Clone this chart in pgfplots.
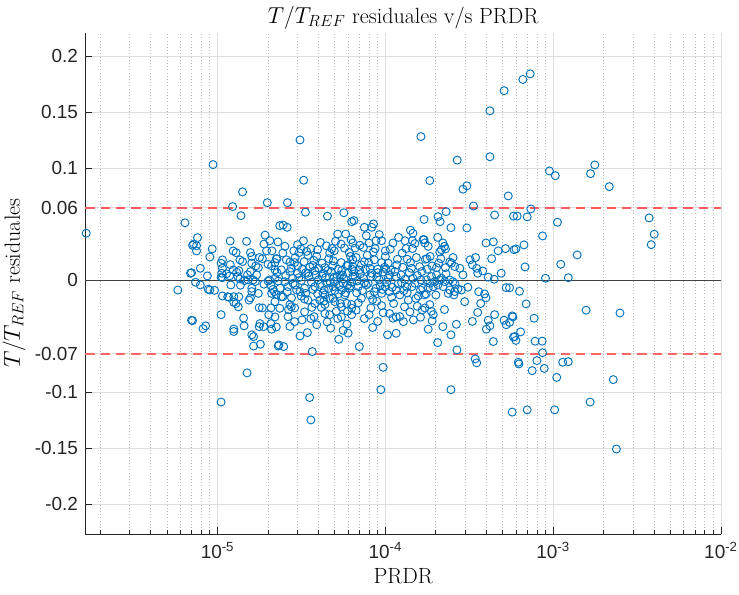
\documentclass[border=0pt]{standalone}
\usepackage{fontspec}
\usepackage{pgfplots}
\usepackage{pgfplotstable}
\pgfplotsset{compat=1.18}
\newfontfamily\arialf{Liberation Sans}
\definecolor{mblue}{RGB}{0,114,189}
\definecolor{axc}{RGB}{38,38,38}
\pgfplotstableread{
x y
1.65e-6 0.0417
6.4e-6 0.051
7.1e-6 0.031
6.9e-6 0.006
5.8e-6 -0.009
7.0e-6 -0.036
1.41e-5 0.0786
1.23e-5 0.0655
1.38e-5 0.0574
1.98e-5 0.069
2.35e-5 0.0485
7.6e-6 0.0378
7.2e-6 0.032
7.5e-6 0.0306
7.5e-6 0.0259
9.3e-6 0.0277
9.0e-6 0.0205
1.19e-5 0.0348
1.49e-5 0.0345
1.24e-5 0.0259
1.29e-5 0.0244
1.36e-5 0.0179
1.41e-5 0.0164
1.07e-5 0.0179
1.05e-5 0.0149
1.07e-5 0.0104
1.06e-5 0.006
1.05e-5 0.0024
1.13e-5 0.0054
1.19e-5 0.0137
1.24e-5 0.0089
1.30e-5 0.0069
1.34e-5 0.0083
1.32e-5 0.003
1.36e-5 0.0009
7.9e-6 0.0104
7.0e-6 0.0065
8.7e-6 0.0036
7.4e-6 -0.0021
7.9e-6 -0.0045
8.8e-6 -0.0083
9.0e-6 -0.009
9.6e-6 -0.0093
1.2e-5 -0.0045
1.37e-5 -0.0047
1.07e-5 -0.0143
1.15e-5 -0.015
1.17e-5 -0.0155
1.25e-5 -0.015
1.34e-5 -0.015
1.25e-5 -0.020
1.29e-5 -0.021
1.33e-5 -0.024
1.05e-5 -0.031
7.1e-6 -0.0363
8.2e-6 -0.0435
1.43e-5 -0.034
1.44e-5 -0.041
1.25e-5 -0.0438
1.25e-5 -0.046
1.6e-5 -0.049
1.79e-5 -0.039
1.8e-5 -0.0574
2.08e-5 -0.039
2.1e-5 -0.044
2.02e-5 -0.031
2.3e-5 -0.059
1.57e-5 0.0244
1.6e-5 0.021
1.6e-5 0.0149
1.78e-5 0.020
1.85e-5 0.019
1.92e-5 0.040
2.05e-5 0.035
1.89e-5 0.032
2.11e-5 0.026
1.96e-5 0.026
1.69e-5 0.0125
1.75e-5 0.011
1.71e-5 0.0045
1.63e-5 0.0
1.68e-5 -0.0015
1.6e-5 -0.0074
1.6e-5 -0.0104
1.57e-5 -0.016
1.54e-5 -0.018
1.75e-5 -0.012
1.89e-5 -0.0038
2.08e-5 -0.005
2.14e-5 -0.0085
2.18e-5 -0.0105
2.10e-5 -0.012
2.24e-5 -0.013
2.08e-5 -0.025
1.85e-5 -0.025
1.77e-5 -0.0248
2.1e-5 0.0125
2.2e-5 0.009
2.26e-5 0.0065
1.57e-5 0.0074
1.51e-5 0.0045
1.18e-5 0.0036
1.07e-5 0.002
1.52e-5 0.0
1.45e-5 -0.0006
2.26e-5 0.0188
2.2e-5 0.0155
2.0e-5 0.014
2.0e-5 -0.001
2.04e-5 0.0
2.2e-5 0.0015
1.77e-5 -0.0417
1.88e-5 -0.0417
1.64e-5 -0.0506
3.26e-5 0.089
2.61e-5 0.069
3.34e-5 0.0605
4.52e-5 0.057
5.66e-5 0.060
6.3e-5 0.052
2.46e-5 0.049
2.6e-5 0.047
2.29e-5 0.034
2.52e-5 0.030
5.2e-5 0.041
5.8e-5 0.041
4.8e-5 0.028
4.96e-5 0.026
3.14e-5 0.0277
3.06e-5 0.0244
3.46e-5 0.022
3.9e-5 0.021
4.66e-5 0.024
4.6e-5 0.019
6.2e-5 0.021
6.4e-5 0.018
2.24e-5 0.019
2.57e-5 0.018
2.7e-5 0.016
2.88e-5 0.0155
3.0e-5 0.0125
3.28e-5 0.0164
3.7e-5 0.013
4.2e-5 0.015
4.36e-5 0.011
5.46e-5 0.0155
5.88e-5 0.0125
5.24e-5 0.0095
2.4e-5 0.009
2.7e-5 0.0074
3.0e-5 0.006
3.36e-5 0.0065
3.8e-5 0.0083
4.26e-5 0.006
4.77e-5 0.0074
5.35e-5 0.0045
6.0e-5 0.0065
6.4e-5 0.003
2.3e-5 -0.001
2.52e-5 -0.0015
2.82e-5 -0.003
3.16e-5 -0.0005
3.63e-5 -0.002
3.98e-5 0.0
4.47e-5 -0.003
5.0e-5 -0.0015
5.6e-5 -0.003
6.3e-5 -0.002
2.36e-5 -0.0074
2.63e-5 -0.006
2.96e-5 -0.009
3.3e-5 -0.0074
3.8e-5 -0.006
4.32e-5 -0.009
4.88e-5 -0.006
5.48e-5 -0.009
6.1e-5 -0.0074
2.4e-5 -0.015
2.76e-5 -0.016
3.1e-5 -0.0104
4.36e-5 -0.0134
4.88e-5 -0.0164
5.74e-5 -0.0134
2.7e-5 -0.022
2.88e-5 -0.025
2.75e-5 -0.024
3.46e-5 -0.018
3.8e-5 -0.021
4.07e-5 -0.018
4.36e-5 -0.022
4.66e-5 -0.0164
5.0e-5 -0.0194
5.47e-5 -0.024
5.88e-5 -0.021
6.3e-5 -0.0253
2.2e-5 -0.0194
2.35e-5 -0.0253
2.45e-5 -0.015
2.63e-5 -0.0328
2.88e-5 -0.0372
3.19e-5 -0.0357
3.6e-5 -0.0345
3.76e-5 -0.0328
3.9e-5 -0.040
4.36e-5 -0.030
4.66e-5 -0.031
5.1e-5 -0.028
5.47e-5 -0.033
5.95e-5 -0.028
4.72e-5 -0.043
5.6e-5 -0.045
5.28e-5 -0.053
3.43e-5 -0.047
3.1e-5 -0.050
2.32e-5 -0.058
2.48e-5 -0.0595
3.67e-5 -0.064
2.2e-5 -0.033
2.24e-5 -0.042
1.84e-4 0.0887
6.5e-5 0.053
7.5e-5 0.047
8.5e-5 0.050
8.3e-5 0.047
1.41e-4 0.0444
1.46e-4 0.0417
1.11e-4 0.033
1.31e-4 0.035
1.45e-4 0.035
1.68e-4 0.036
1.72e-4 0.033
8.0e-5 0.033
8.8e-5 0.035
9.5e-5 0.035
6.4e-5 0.033
7.4e-5 0.029
8.5e-5 0.025
1.0e-4 0.026
1.18e-4 0.0185
1.35e-4 0.0185
1.53e-4 0.020
1.73e-4 0.0185
6.7e-5 0.020
7.5e-5 0.0164
8.6e-5 0.018
9.5e-5 0.0155
1.04e-4 0.015
6.4e-5 0.0119
7.0e-5 0.0089
8.1e-5 0.0104
9.0e-5 0.0096
9.9e-5 0.0113
1.08e-4 0.0089
1.27e-4 0.0113
1.43e-4 0.0104
1.6e-4 0.0119
1.78e-4 0.0096
6.6e-5 0.003
7.4e-5 0.0015
8.2e-5 0.003
9.2e-5 0.0
1.04e-4 0.0015
1.16e-4 0.003
1.31e-4 0.0006
1.46e-4 0.0015
1.63e-4 0.0
6.9e-5 -0.006
7.7e-5 -0.0045
8.8e-5 -0.0074
1.0e-4 -0.006
1.16e-4 -0.009
1.34e-4 -0.0065
1.5e-4 -0.003
1.67e-4 -0.0074
7.2e-5 -0.0164
8.1e-5 -0.0134
9.5e-5 -0.012
1.06e-4 -0.0104
1.22e-4 -0.0134
1.37e-4 -0.018
1.57e-4 -0.0143
1.71e-4 -0.0134
6.3e-5 -0.022
6.7e-5 -0.027
6.3e-5 -0.031
8.2e-5 -0.025
9.5e-5 -0.023
1.06e-4 -0.030
1.16e-4 -0.033
9.7e-5 -0.0292
1.11e-4 -0.0342
1.22e-4 -0.0327
1.28e-4 -0.0372
1.47e-4 -0.0357
1.62e-4 -0.0333
1.66e-4 -0.0268
1.03e-4 -0.049
1.16e-4 -0.0476
7.0e-5 -0.0595
3.06e-4 0.084
2.9e-4 0.081
5.4e-4 0.075
3.35e-4 0.066
4.48e-4 0.058
2.06e-4 0.0565
2.3e-4 0.061
2.12e-4 0.052
2.46e-4 0.0467
3.06e-4 0.0464
1.7e-4 0.054
5.8e-4 0.057
2.05e-4 0.038
2.2e-4 0.033
2.25e-4 0.030
2.16e-4 0.027
2.28e-4 0.0277
1.7e-4 0.036
1.8e-4 0.030
1.85e-4 0.021
1.77e-4 0.019
2.11e-4 0.025
2.14e-4 0.019
2.08e-4 0.015
2.42e-4 0.016
2.53e-4 0.020
2.48e-4 0.015
2.59e-4 0.012
2.78e-4 0.0104
2.02e-4 0.011
2.28e-4 0.011
3.98e-4 0.033
4.4e-4 0.034
4.7e-4 0.026
5.2e-4 0.028
5.85e-4 0.027
3.2e-4 0.018
3.45e-4 0.020
4.3e-4 0.019
3.5e-4 0.0104
3.55e-4 0.006
3.8e-4 0.008
4.9e-4 0.006
4.45e-4 0.0006
5.25e-4 -0.0069
1.76e-4 0.0
1.84e-4 -0.003
1.97e-4 -0.0015
2.11e-4 0.0
2.26e-4 -0.0015
2.42e-4 0.0
2.53e-4 -0.0015
1.8e-4 -0.0074
1.93e-4 -0.006
2.06e-4 -0.0045
2.21e-4 -0.006
1.88e-4 0.003
2.02e-4 0.0045
2.16e-4 0.0015
2.42e-4 -0.009
2.59e-4 -0.0104
2.71e-4 -0.008
2.84e-4 -0.009
2.37e-4 -0.012
2.56e-4 -0.0134
2.97e-4 -0.0194
3.9e-4 -0.0125
3.98e-4 -0.016
3.7e-4 -0.021
3.55e-4 -0.029
3.3e-4 -0.037
4.48e-4 -0.031
4.1e-4 -0.036
4.2e-4 -0.041
4.0e-4 -0.044
5.1e-4 -0.036
5.25e-4 -0.040
5.75e-4 -0.033
5.8e-4 -0.051
1.84e-4 -0.022
1.88e-4 -0.028
1.93e-4 -0.031
1.72e-4 -0.025
2.65e-4 -0.0396
2.2e-4 -0.0417
1.8e-4 -0.044
2.46e-4 -0.049
2.05e-4 -0.056
4.4e-4 -0.055
2.67e-4 -0.0625
3.43e-4 -0.0705
9.5e-4 0.0973
1.03e-3 0.0931
1.77e-3 0.1027
1.67e-3 0.0949
2.16e-3 0.0833
7.36e-4 0.0634
6.1e-4 0.057
7.0e-4 0.0563
1.06e-3 0.0515
3.73e-3 0.0554
4.0e-3 0.0408
3.84e-3 0.0315
8.65e-4 0.0393
6.0e-4 0.0277
6.7e-4 0.0313
1.39e-3 0.0223
1.11e-3 0.014
6.8e-4 0.0116
9.0e-4 0.0015
1.23e-3 0.002
6.3e-4 -0.0101
6.9e-4 -0.0214
5.7e-4 -0.0321
1.57e-3 -0.027
2.5e-3 -0.0295
7.7e-4 -0.0342
6.4e-4 -0.0464
5.9e-4 -0.0506
6.0e-4 -0.054
7.8e-4 -0.0547
8.6e-4 -0.0547
8.65e-4 -0.065
6.2e-4 -0.0735
6.25e-4 -0.075
8.0e-4 -0.072
1.14e-3 -0.0735
1.23e-3 -0.073
7.5e-4 -0.081
8.85e-4 -0.079
1.05e-3 -0.087
2.28e-3 -0.089
5.5e-4 -0.007
5.5e-4 -0.038
9.4e-6 0.103
3.1e-5 0.125
1.63e-4 0.128
2.68e-4 0.107
4.2e-4 0.110
4.2e-4 0.151
5.1e-4 0.169
6.6e-4 0.179
7.3e-4 0.184
1.05e-5 -0.109
1.5e-5 -0.083
3.54e-5 -0.105
3.6e-5 -0.125
9.7e-5 -0.078
9.4e-5 -0.098
2.46e-4 -0.098
3.5e-4 -0.074
5.7e-4 -0.118
7.0e-4 -0.116
1.02e-3 -0.116
1.66e-3 -0.109
2.38e-3 -0.151
8.5e-6 -0.041
1.64e-5 -0.059
2.55e-5 0.004
2.75e-5 0.0105
2.9e-5 -0.0045
3.05e-5 0.002
3.2e-5 0.0095
3.35e-5 -0.012
3.5e-5 0.0035
3.55e-5 0.0115
3.7e-5 -0.0085
3.85e-5 0.0045
4.0e-5 0.0105
4.1e-5 -0.004
4.25e-5 -0.0115
4.4e-5 0.002
4.55e-5 0.0085
4.7e-5 -0.0025
4.85e-5 0.0125
5.0e-5 -0.0095
5.15e-5 0.0025
5.3e-5 -0.005
5.5e-5 0.0085
5.65e-5 0.001
5.8e-5 -0.0115
6.0e-5 0.0135
6.2e-5 -0.0055
6.5e-5 0.0075
6.8e-5 -0.001
7.1e-5 0.0055
7.3e-5 -0.0095
7.6e-5 0.0095
7.9e-5 -0.003
8.3e-5 0.006
8.6e-5 -0.0105
8.9e-5 0.0025
9.3e-5 -0.005
9.7e-5 0.007
1.02e-4 -0.002
1.06e-4 0.0045
1.1e-4 -0.0065
1.14e-4 0.0075
1.19e-4 -0.0035
1.24e-4 0.0045
1.29e-4 -0.0095
1.39e-4 0.0065
1.44e-4 -0.006
1.55e-4 0.004
1.62e-4 -0.009
2.9e-5 0.02
3.3e-5 -0.017
3.75e-5 0.0175
4.3e-5 -0.019
4.9e-5 0.017
5.4e-5 -0.021
6.1e-5 0.0245
6.9e-5 -0.0205
7.8e-5 0.022
8.9e-5 -0.019
1.0e-4 0.021
1.12e-4 -0.021
1.26e-4 0.024
3.0e-5 0.0315
3.6e-5 0.028
4.1e-5 0.0335
5.45e-5 0.032
6.6e-5 0.0285
8.0e-5 -0.031
9.0e-5 -0.037
2.65e-5 -0.0265
4.15e-5 -0.0245
5.9e-5 -0.0395
1.3e-4 -0.024
1.45e-4 0.028
1.55e-4 -0.0235
2.45e-5 0.024
2.85e-5 0.026
3.25e-5 0.035
3.4e-5 0.0255
3.95e-5 0.027
4.45e-5 0.0305
5.05e-5 0.0345
5.7e-5 0.0285
6.25e-5 0.036
7.05e-5 0.031
7.7e-5 0.0395
8.7e-5 0.028
9.2e-5 0.0405
1.07e-4 0.0275
1.2e-4 0.038
1.33e-4 0.028
1.5e-4 0.0325
2.6e-5 -0.0105
2.8e-5 0.0015
3.15e-5 -0.0145
3.45e-5 0.006
3.65e-5 -0.0245
3.95e-5 -0.0125
4.2e-5 0.0035
4.6e-5 -0.0075
4.95e-5 0.0025
5.25e-5 -0.0125
5.55e-5 0.0045
5.95e-5 -0.0045
6.35e-5 0.0095
6.75e-5 -0.0115
7.2e-5 0.0135
7.5e-5 -0.0025
7.95e-5 0.0155
8.4e-5 -0.0175
9.0e-5 0.0065
9.6e-5 -0.0085
1.01e-4 0.0095
1.09e-4 -0.0155
1.17e-4 0.0135
1.25e-4 -0.0025
1.35e-4 -0.0115
1.41e-4 0.0155
1.52e-4 -0.0165
1.65e-4 0.0075
1.75e-4 -0.0125
1.9e-4 0.0125
2.0e-4 -0.0135
2.3e-4 0.0055
2.6e-4 -0.0035
2.9e-4 0.0045
3.1e-4 -0.0065
3.3e-4 0.0135
3.6e-4 -0.0105
4.1e-4 0.0025
2.7e-5 -0.0415
3.3e-5 -0.0285
4.5e-5 -0.0375
5.2e-5 -0.0345
6.0e-5 -0.0475
7.5e-5 -0.0345
8.4e-5 -0.0425
1.4e-4 -0.0285
1.9e-4 -0.0365
2.25e-4 -0.0265
}\resid
\pgfplotstableread{
x y
1.63e-6 0.0645
1e-2 0.0645
}\upline
\pgfplotstableread{
x y
1.63e-6 -0.066
1e-2 -0.066
}\lowline
\begin{document}
\begin{tikzpicture}
\path[use as bounding box] (-64pt,-45.75pt) rectangle (490.3pt,400.5pt);
\begin{axis}[
  at={(0,0)}, anchor=south west, scale only axis,
  width=476.8pt, height=376pt,
  xmode=log, xmin=1.63e-6, xmax=1e-2, ymin=-0.2268, ymax=0.2208,
  axis x line=bottom, axis y line=left,
  axis line style={-, color=axc, line width=0.6pt},
  tick align=inside, major tick length=5pt, minor tick length=2.7pt,
  tick style={color=axc, line width=0.6pt},
  xtick={1e-5,1e-4,1e-3,1e-2},
  xticklabels={10\textsuperscript{-5},10\textsuperscript{-4},10\textsuperscript{-3},10\textsuperscript{-2}},
  minor xtick={2e-6,3e-6,4e-6,5e-6,6e-6,7e-6,8e-6,9e-6,2e-5,3e-5,4e-5,5e-5,6e-5,7e-5,8e-5,9e-5,2e-4,3e-4,4e-4,5e-4,6e-4,7e-4,8e-4,9e-4,2e-3,3e-3,4e-3,5e-3,6e-3,7e-3,8e-3,9e-3},
  ytick={-0.2,-0.15,-0.1,-0.066,0,0.0645,0.1,0.15,0.2},
  yticklabels={-0.2,-0.15,-0.1,-0.07,0,0.06,0.1,0.15,0.2},
  ticklabel style={font=\arialf\fontsize{14.2}{16}\selectfont, color=axc},
  xticklabel style={yshift=-3pt},
  yticklabel style={xshift=-2pt},
  xmajorgrids, ymajorgrids, xminorgrids,
  major grid style={color=black!13, line width=0.6pt},
  minor grid style={color=black!28, dotted, line width=0.6pt},
  title={$T/T_{REF}$ residuales v/s PRDR},
  title style={font=\fontsize{16.5}{19}\selectfont, at={(axis description cs:0.5,1)}, anchor=base, yshift=1pt},
  xlabel={PRDR}, ylabel={$T/T_{REF}$ residuales},
  label style={font=\fontsize{16.5}{19}\selectfont},
  clip=false,
]
\addplot[only marks, mark=o, mark size=3pt, color=mblue, mark options={line width=0.7pt}] table[x=x, y=y] {\resid};
\addplot[no marks, color=black!75, line width=0.6pt] coordinates {(1.63e-6,0) (1e-2,0)};
\addplot[no marks, red!65, line width=1.2pt, dash pattern=on 7pt off 4.5pt] table[x=x, y=y] {\upline};
\addplot[no marks, red!60, line width=1pt, dash pattern=on 7pt off 4.5pt] table[x=x, y=y] {\lowline};
\end{axis}
\end{tikzpicture}
\end{document}
